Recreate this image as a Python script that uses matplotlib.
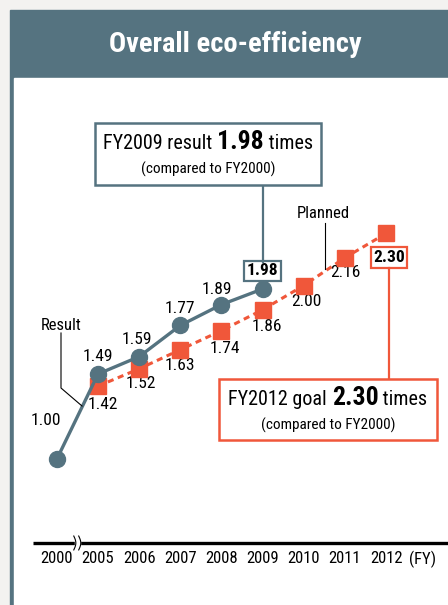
import numpy as np
import matplotlib
matplotlib.use('Agg')
from matplotlib import pyplot as plt
from matplotlib import font_manager
from matplotlib.patches import Rectangle
from matplotlib.offsetbox import TextArea, HPacker, AnchoredOffsetbox

names = {f.name for f in font_manager.fontManager.ttflist}
fams = [n for n in ['Roboto Condensed', 'Liberation Sans Narrow', 'Roboto'] if n in names]
plt.rcParams['font.family'] = fams + ['DejaVu Sans']

# data
years = ['2000', '2005', '2006', '2007', '2008', '2009', '2010', '2011', '2012']
result = [1.00, 1.49, 1.59, 1.77, 1.89, 1.98]
planned = [1.42, 1.52, 1.63, 1.74, 1.86, 2.00, 2.16, 2.30]
result_years = years[:6]
planned_years = years[1:]

BLUE = '#557380'
RED = '#f0573a'
W, H = 448, 605

fig = plt.figure(figsize=(W / 100, H / 100), dpi=100, facecolor='#f3f2f0')

# background frame + header, pixel coords
ov = fig.add_axes([0, 0, 1, 1], zorder=0)
ov.set_xlim(0, W)
ov.set_ylim(H, 0)
ov.axis('off')
ov.add_patch(Rectangle((10, 10), W - 10, H - 10, color=BLUE, zorder=0))
ov.add_patch(Rectangle((14, 78), W - 14, H - 78, color='white', zorder=1))
ov.text(235, 45, 'Overall eco-efficiency', color='white', fontsize=20.5,
        fontweight='bold', ha='center', va='center')

ax = fig.add_axes([14 / W, 0, 1 - 14 / W, 1 - 78 / H], zorder=1)
ax.set_xlim(-1.043, 9.507)
ax.set_ylim(0.1585, 3.196)
ax.axis('off')

top = fig.add_axes([0, 0, 1, 1], zorder=2)
top.set_xlim(0, W)
top.set_ylim(H, 0)
top.axis('off')

xpos = {y: i for i, y in enumerate(years)}
rx = [xpos[y] for y in result_years]
px = [xpos[y] for y in planned_years]

# axis line with break
base = 0.516
ax.plot([-0.58, 9.6], [base, base], color='black', lw=2.4, solid_capstyle='butt', zorder=1)
ax.add_patch(Rectangle((0.44, base - 0.03), 0.12, 0.06, color='white', zorder=2))
t = np.linspace(0, 1, 30)
for x0 in (0.43, 0.55):
    ax.plot(x0 + 0.05 * np.sin(np.pi * t) - 0.02, base - 0.04 + 0.08 * t, color='black',
            lw=0.8, zorder=3)
for i, y in enumerate(years):
    ax.annotate(y, (i, base), xytext=(0, -8), textcoords='offset pixels', ha='center',
                va='top', fontsize=12)
ax.annotate('(FY)', (8.9, base), xytext=(0, -8), textcoords='offset pixels', ha='center',
            va='top', fontsize=12)

# series
ax.plot(px, planned, color=RED, lw=2.2, ls=(0, (2, 1.5)), marker='s', ms=11.5, mec=RED,
        mfc=RED, zorder=4)
ax.plot(rx, result, color=BLUE, lw=2.4, marker='o', ms=11.5, mec=BLUE, mfc=BLUE, zorder=5)

# value labels
r_off = [(-11, 39), (0, 17), (-2, 17), (0, 17), (-5, 15), (0, 18)]
for x, v, o in zip(rx[:-1], result[:-1], r_off):
    ax.annotate(f'{v:.2f}', (x, v), xytext=o, textcoords='offset pixels', ha='center',
                va='center', fontsize=12.5)
p_off = [(5, -18), (2, -15), (0, -16), (3, -18), (4, -17), (3, -16), (1, -15)]
for x, v, o in zip(px[:-1], planned[:-1], p_off):
    ax.annotate(f'{v:.2f}', (x, v), xytext=o, textcoords='offset pixels', ha='center',
                va='center', fontsize=12.5)

ax.annotate(f'{result[-1]:.2f}', (rx[-1], result[-1]), xytext=(0, 18),
            textcoords='offset pixels', ha='center', va='center', fontsize=12.5,
            fontweight='heavy',
            bbox=dict(boxstyle='square,pad=0.15', fc='white', ec=BLUE, lw=1.6), zorder=6)
ax.annotate(f'{planned[-1]:.2f}', (px[-1], planned[-1]), xytext=(3, -24),
            textcoords='offset pixels', ha='center', va='center', fontsize=12.5,
            fontweight='heavy',
            bbox=dict(boxstyle='square,pad=0.15', fc='white', ec=RED, lw=1.6), zorder=6)

# leader lines
top.plot([263, 263], [185, 262], color=BLUE, lw=1.6)
top.plot([389, 389], [268, 379], color=RED, lw=1.6)
top.plot([325, 325], [223, 269], color='black', lw=0.8)
top.plot([61, 61, 82], [333, 388, 406], color='black', lw=0.8)
top.text(323, 214, 'Planned', ha='center', va='center', fontsize=12)
top.text(61, 325, 'Result', ha='center', va='center', fontsize=12)

# callout boxes
def callout(x0, y0, x1, y1, color, head, value):
    top.add_patch(Rectangle((x0, y0), x1 - x0, y1 - y0, fc='white', ec=color, lw=1.8,
                            zorder=4))
    parts = [TextArea(head + ' ', textprops=dict(fontsize=14.5)),
             TextArea(value, textprops=dict(fontsize=18.5, fontweight='heavy')),
             TextArea(' times', textprops=dict(fontsize=14.5))]
    row = HPacker(children=parts, align='baseline', pad=0, sep=0)
    box = AnchoredOffsetbox(loc='center', child=row, pad=0, borderpad=0, frameon=False,
                            bbox_to_anchor=((x0 + x1) / 2, y0 + 19),
                            bbox_transform=top.transData)
    box.set_zorder(6)
    top.add_artist(box)
    top.text((x0 + x1) / 2, y0 + 46, '(compared to FY2000)', ha='center',
             va='center', fontsize=11, zorder=6)

callout(95, 123, 321, 185, BLUE, 'FY2009 result', f'{result[-1]:.2f}')
callout(219, 379, 437, 440, RED, 'FY2012 goal', f'{planned[-1]:.2f}')

fig.savefig('out.png', dpi=100, facecolor=fig.get_facecolor())
